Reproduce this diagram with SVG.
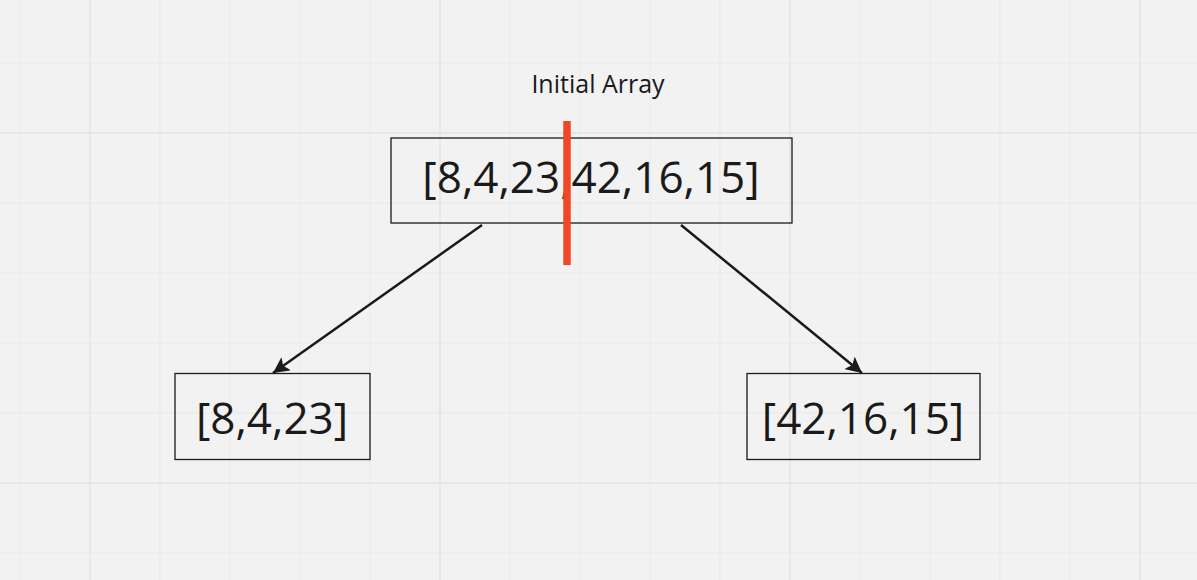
<svg xmlns="http://www.w3.org/2000/svg" width="1197" height="580" viewBox="0 0 1197 580">
<style>
.minor{stroke:#e9e9e9;stroke-width:1;fill:none}
.major{stroke:#e3e3e3;stroke-width:1.5;fill:none}
.box{fill:none;stroke:#1a1a1a;stroke-width:1.3}
.big{font-family:"Open Sans","Liberation Sans",sans-serif;font-size:44px;fill:#1a1a1a;text-anchor:middle}
.label{font-family:"Open Sans","Liberation Sans",sans-serif;font-size:25px;fill:#1a1a1a;text-anchor:middle}
.conn{stroke:#1a1a1a;stroke-width:2.5;fill:none;marker-end:url(#arrow)}
</style>
<defs>
<marker id="arrow" markerWidth="18" markerHeight="16" refX="16" refY="8" orient="auto" markerUnits="userSpaceOnUse">
<path d="M0,0 L16,8 L0,16 L3.5,8 Z" fill="#1a1a1a"/>
</marker>
</defs>
<rect width="1197" height="580" fill="#f2f2f2"/>
<g id="grid">
<path class="minor" d="M20,0V580M160,0V580M230,0V580M300,0V580M370,0V580M510,0V580M580,0V580M650,0V580M720,0V580M860,0V580M930,0V580M1000,0V580M1070,0V580M0,63H1197M0,203H1197M0,273H1197M0,343H1197M0,413H1197M0,553H1197"/>
<path class="major" d="M90,0V580M440,0V580M790,0V580M1140,0V580M0,133H1197M0,483H1197"/>
</g>
<g id="title">
<text class="label" x="598" y="93">Initial Array</text>
</g>
<g id="connectors">
<line class="conn" x1="482" y1="225" x2="273" y2="373"/>
<line class="conn" x1="681" y1="225" x2="862" y2="373"/>
</g>
<g id="initial">
<rect class="box" x="391" y="138" width="401" height="85" fill="#f2f2f2"/>
<text class="big" x="591" y="193">[8,4,23,42,16,15]</text>
</g>
<g id="split">
<line x1="567" y1="121" x2="567" y2="265" stroke="#f24726" stroke-width="7.5"/>
</g>
<g id="left">
<rect class="box" x="175" y="373.5" width="195" height="86"/>
<text class="big" x="272" y="434">[8,4,23]</text>
</g>
<g id="right">
<rect class="box" x="747" y="373.5" width="233" height="86"/>
<text class="big" x="863" y="434">[42,16,15]</text>
</g>
</svg>
